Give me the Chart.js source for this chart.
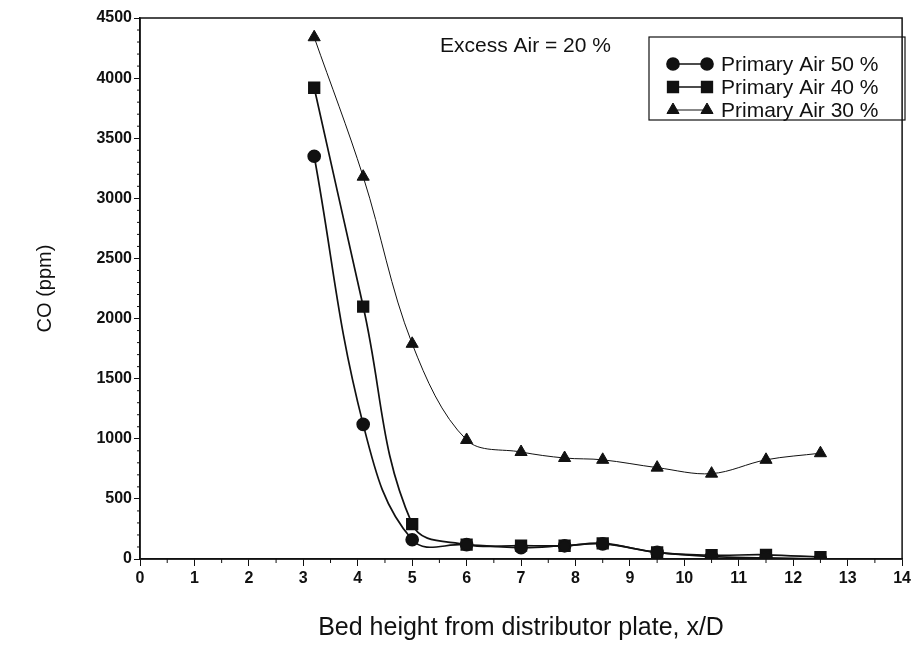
<!DOCTYPE html>
<html>
<head>
<meta charset="utf-8">
<script src="https://cdn.jsdelivr.net/npm/chart.js@4.4.1/dist/chart.umd.min.js"></script>
<style>
  html, body { margin: 0; padding: 0; background: #fff; }
</style>
</head>
<body>
<canvas id="coChart" width="914" height="651"></canvas>
<script>
// bed height x/D and CO readings (ppm)
var bedHeight = [3.2, 4.1, 5, 6, 7, 7.8, 8.5, 9.5, 10.5, 11.5, 12.5];
var coPrimary50 = [3350, 1120, 160, 120, 95, 110, 125, 55, 20, 10, 0];
var coPrimary40 = [3920, 2100, 290, 120, 112, 110, 130, 55, 32, 35, 15];
var coPrimary30 = [4340, 3180, 1790, 990, 890, 840, 825, 760, 710, 825, 880];
var seriesLabels = ['Primary Air 50 %', 'Primary Air 40 %', 'Primary Air 30 %'];
var xTicks = { min: 0, max: 14, step: 1 };
var yTicks = { min: 0, max: 4500, step: 500 };
var noteText = 'Excess Air = 20 %';

var FONT = '"Liberation Sans", Arial, Helvetica, sans-serif';
var INK = '#111';

function toPoints(ys) {
  return ys.map(function (y, i) { return { x: bedHeight[i], y: y }; });
}

// frame, minor ticks, note and the boxed legend
var decorations = {
  id: 'decorations',
  afterDraw: function (chart) {
    var ctx = chart.ctx, a = chart.chartArea;
    var xs = chart.scales.x, ys = chart.scales.y;
    ctx.save();
    ctx.strokeStyle = INK;
    ctx.lineWidth = 1.5;
    ctx.strokeRect(a.left, a.top, a.right - a.left, a.bottom - a.top);

    ctx.lineWidth = 1;
    ctx.beginPath();
    for (var v = xTicks.min + 0.5; v < xTicks.max; v += 1) {
      var px = xs.getPixelForValue(v);
      ctx.moveTo(px, a.bottom);
      ctx.lineTo(px, a.bottom + 4);
    }
    for (var w = 100; w < yTicks.max; w += 100) {
      if (w % yTicks.step === 0) continue;
      var py = ys.getPixelForValue(w);
      ctx.moveTo(a.left, py);
      ctx.lineTo(a.left - 3, py);
    }
    ctx.stroke();

    ctx.fillStyle = INK;
    ctx.font = '21px ' + FONT;
    ctx.textBaseline = 'middle';
    ctx.textAlign = 'left';
    ctx.fillText(noteText, 440, 46);

    // legend box
    ctx.lineWidth = 1.2;
    ctx.strokeRect(649, 37, 256, 83);
    chart.data.datasets.forEach(function (ds, i) {
      var y = 64 + i * 23;
      ctx.strokeStyle = ds.borderColor;
      ctx.lineWidth = ds.borderWidth;
      ctx.beginPath();
      ctx.moveTo(673, y);
      ctx.lineTo(707, y);
      ctx.stroke();
      ctx.fillStyle = ds.pointBackgroundColor;
      ctx.strokeStyle = ds.pointBorderColor;
      [673, 707].forEach(function (mx) {
        Chart.helpers.drawPoint(ctx, {
          pointStyle: ds.pointStyle, radius: ds.pointRadius,
          borderWidth: 1, rotation: 0
        }, mx, y);
      });
      ctx.fillStyle = INK;
      ctx.font = '21px ' + FONT;
      ctx.fillText(ds.label, 721, y + 1);
    });
    ctx.restore();
  }
};

var ctx = document.getElementById('coChart').getContext('2d');
var coChart = new Chart(ctx, {
  type: 'scatter',
  data: {
    datasets: [{
      label: seriesLabels[0],
      data: toPoints(coPrimary50),
      showLine: true,
      tension: 0.4,
      borderColor: INK,
      borderWidth: 1.7,
      pointStyle: 'circle',
      pointRadius: 6,
      pointBackgroundColor: INK,
      pointBorderColor: INK
    }, {
      label: seriesLabels[1],
      data: toPoints(coPrimary40),
      showLine: true,
      tension: 0.4,
      borderColor: INK,
      borderWidth: 1.7,
      pointStyle: 'rect',
      pointRadius: 7.5,
      pointBackgroundColor: INK,
      pointBorderColor: INK
    }, {
      label: seriesLabels[2],
      data: toPoints(coPrimary30),
      showLine: true,
      tension: 0.35,
      borderColor: INK,
      borderWidth: 1,
      pointStyle: 'triangle',
      pointRadius: 7,
      pointBackgroundColor: INK,
      pointBorderColor: INK
    }]
  },
  options: {
    responsive: false,
    animation: false,
    devicePixelRatio: 1,
    layout: { padding: { top: 18, right: 11, left: 0, bottom: 0 } },
    plugins: {
      legend: { display: false },
      tooltip: { enabled: false }
    },
    scales: {
      x: {
        type: 'linear',
        min: xTicks.min,
        max: xTicks.max,
        afterFit: function (scale) { scale.height = 92; },
        border: { color: INK, width: 1.5 },
        grid: { drawOnChartArea: false, color: INK, tickLength: 7, tickWidth: 1 },
        ticks: {
          stepSize: xTicks.step,
          padding: 3,
          color: INK,
          font: { family: FONT, size: 16, weight: 'bold' },
          callback: function (value) { return String(value); }
        },
        title: {
          display: true,
          text: 'Bed height from distributor plate, x/D',
          color: INK,
          font: { family: FONT, size: 25 },
          padding: { top: 0, bottom: 8 }
        }
      },
      y: {
        min: yTicks.min,
        max: yTicks.max,
        afterFit: function (scale) { scale.width = 140; },
        border: { color: INK, width: 1.5 },
        grid: { drawOnChartArea: false, color: INK, tickLength: 6, tickWidth: 1 },
        ticks: {
          stepSize: yTicks.step,
          padding: 2,
          color: INK,
          font: { family: FONT, size: 16, weight: 'bold' },
          callback: function (value) { return String(value); }
        },
        title: {
          display: true,
          text: 'CO (ppm)',
          color: INK,
          font: { family: FONT, size: 20 },
          padding: { top: 33, bottom: 0 }
        }
      }
    }
  },
  plugins: [decorations]
});
</script>
</body>
</html>
